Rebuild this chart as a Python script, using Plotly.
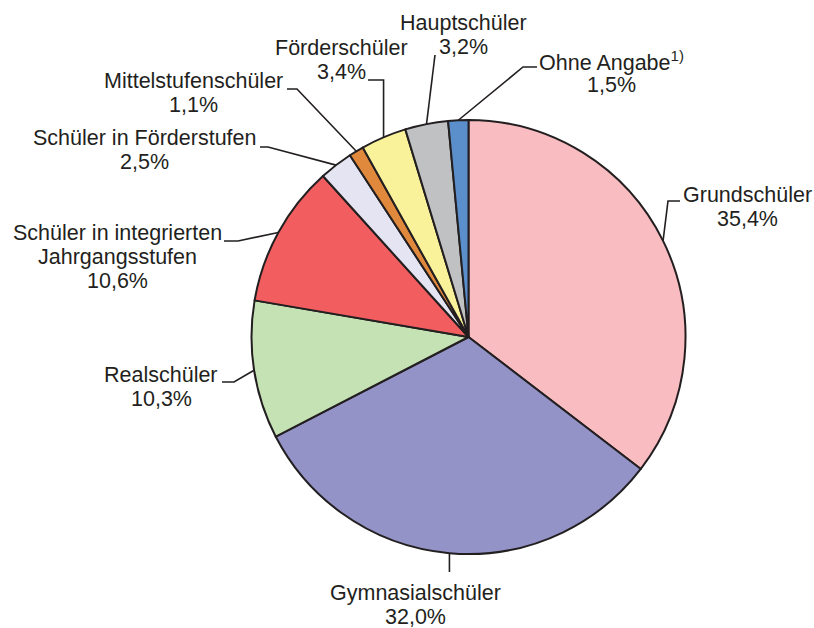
import math
import plotly.graph_objects as go

# ---- data ----
categories = ["Grundschüler", "Gymnasialschüler", "Realschüler",
              "Schüler in integrierten Jahrgangsstufen", "Schüler in Förderstufen",
              "Mittelstufenschüler", "Förderschüler", "Hauptschüler", "Ohne Angabe"]
shares = [35.4, 32.0, 10.3, 10.6, 2.5, 1.1, 3.4, 3.2, 1.5]
label_lines = [["Grundschüler"], ["Gymnasialschüler"], ["Realschüler"],
               ["Schüler in integrierten", "Jahrgangsstufen"], ["Schüler in Förderstufen"],
               ["Mittelstufenschüler"], ["Förderschüler"], ["Hauptschüler"],
               ["Ohne Angabe<sup>1)</sup>"]]
value_labels = [f"{v:.1f}".replace(".", ",") + "%" for v in shares]

# ---- styles ----
colors = ["#f9bcc0", "#9393c8", "#c5e2b5", "#f25e5f", "#e4e4f3",
          "#e0893c", "#faf29a", "#bfc1c3", "#5b8fcb"]
INK = "#231f20"
W, H = 814, 628
CX, CY, R = 468.5, 337.0, 217.0
FS = 21.5
LS = 24  # line spacing in px

# label layout (pixel positions): center x, first line center y
label_pos = [(747, 195), (415, 593), (161, 375), (117, 233), (144, 138),
             (193, 81), (341, 48), (463, 23), (611, 61)]
# leader line bends/ends after the slice edge point (None -> use edge x)
leader_pts = [
    [(668, 201), (680, 201)],
    [(None, 572)],
    [(234, 382), (222, 382)],
    [(238, 241), (224, 241)],
    [(268, 147), (260, 147)],
    [(297, 89), (287, 89)],
    [(None, 80), (368, 80)],
    [(435, 55)],
    [(523, 67), (537, 67)],
]


def px(x, y):
    return x / W, 1 - y / H


fig = go.Figure()
fig.add_trace(go.Pie(
    labels=categories, values=shares, sort=False, direction="clockwise",
    rotation=0, textinfo="none", hoverinfo="label+percent",
    marker=dict(colors=colors, line=dict(color=INK, width=2)),
    domain=dict(x=[(CX - R) / W, (CX + R) / W], y=[1 - (CY + R) / H, 1 - (CY - R) / H]),
    showlegend=False,
))

shapes = []
annotations = []
cum = 0.0
total = sum(shares)
for i, v in enumerate(shares):
    mid = (cum + v / 2) / total * 360.0
    cum += v
    a = math.radians(mid)
    ex, ey = CX + R * math.sin(a), CY - R * math.cos(a)
    pts = [(ex, ey)] + [((ex if x is None else x), y) for x, y in leader_pts[i]]
    path = ""
    for j, (x, y) in enumerate(pts):
        u, w = px(x, y)
        path += ("M" if j == 0 else " L") + f" {u:.5f} {w:.5f}"
    shapes.append(dict(type="path", path=path, xref="paper", yref="paper",
                       line=dict(color=INK, width=1.6)))
    lines = label_lines[i] + [value_labels[i]]
    lx, ly = label_pos[i]
    for k, t in enumerate(lines):
        u, w = px(lx, ly + k * LS)
        annotations.append(dict(text=t, x=u, y=w, xref="paper", yref="paper",
                                xanchor="center", yanchor="middle", showarrow=False,
                                font=dict(family="Arial, Liberation Sans, sans-serif",
                                          size=FS, color=INK)))

fig.update_layout(width=W, height=H, margin=dict(l=0, r=0, t=0, b=0),
                  paper_bgcolor="white", plot_bgcolor="white",
                  shapes=shapes, annotations=annotations)
fig.write_html("out.html", config={"displayModeBar": False},
               post_script="document.body.style.margin='0';")
